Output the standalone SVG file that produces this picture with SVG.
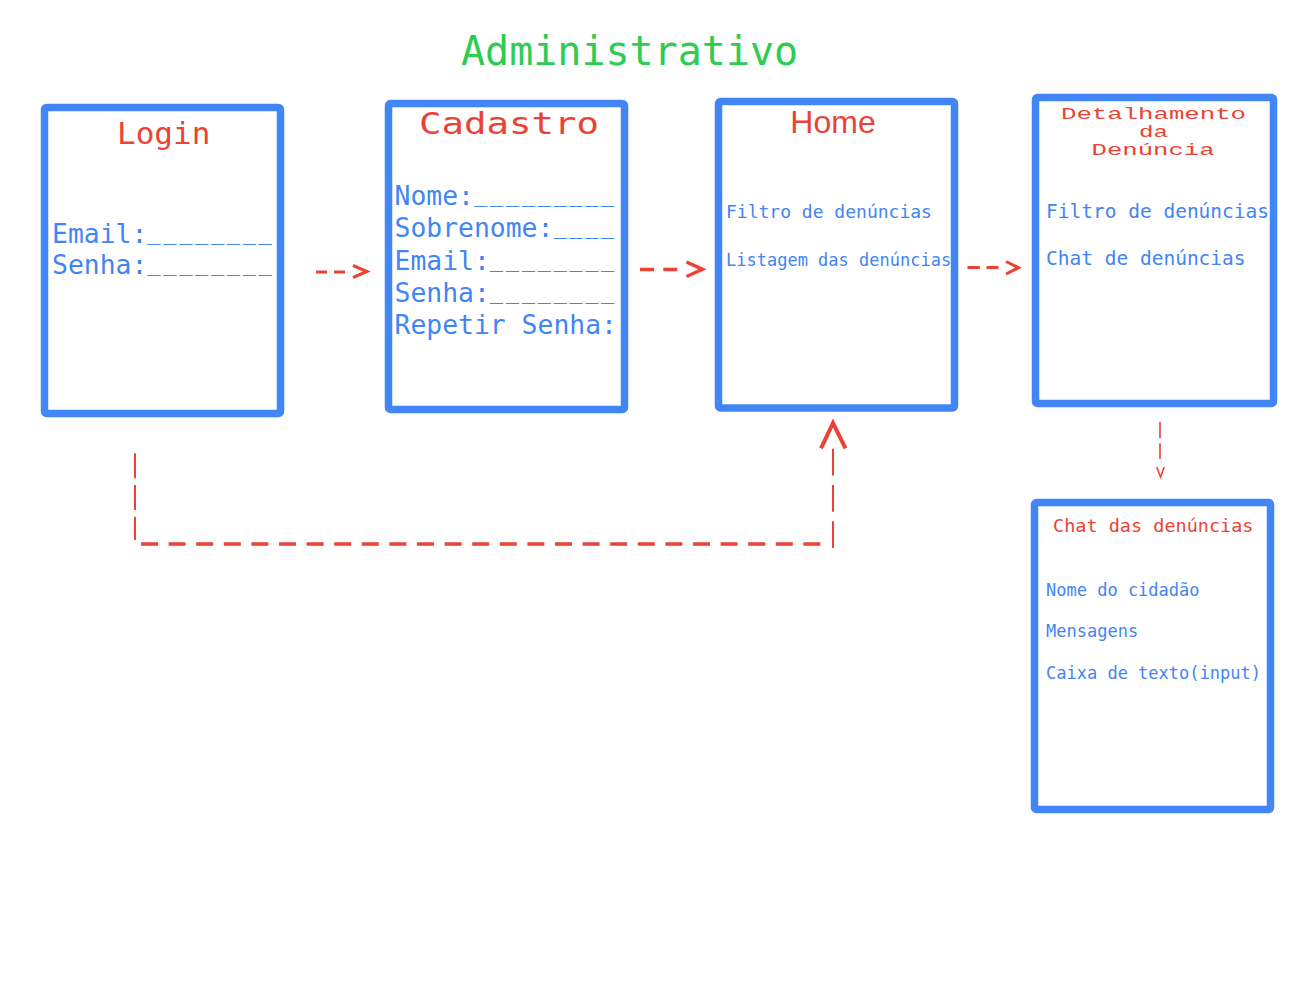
<svg xmlns="http://www.w3.org/2000/svg" width="1313" height="985" viewBox="0 0 1313 985">
<style>
.box{fill:#fff;stroke:#4285F4;stroke-width:7.5}
.mono{font-family:"DejaVu Sans Mono","Liberation Mono",monospace}
.red{fill:#EA4335}
.blue{fill:#4285F4}
.field{font-size:26.4px}
.us{font-size:22px;letter-spacing:2.65px}
.con{fill:none;stroke:#EA4335}
</style>
<rect width="1313" height="985" fill="#fff"/>
<text class="mono" x="461" y="65" font-size="40" fill="#2ECC52">Administrativo</text>

<g id="login">
<rect class="box" x="44.5" y="107.5" width="236" height="306" rx="2"/>
<text class="mono red" x="117" y="144" font-size="31">Login</text>
<text class="mono blue field" x="52" y="243">Email:<tspan class="us" dy="-3">________</tspan></text>
<text class="mono blue field" x="52" y="274">Senha:<tspan class="us" dy="-3">________</tspan></text>
</g>

<g id="cadastro">
<rect class="box" x="388.5" y="103.5" width="236" height="306" rx="2"/>
<text class="mono red" x="419" y="134" font-size="30" textLength="180" lengthAdjust="spacingAndGlyphs">Cadastro</text>
<text class="mono blue field" x="394.5" y="205">Nome:<tspan class="us" dy="-3">_________</tspan></text>
<text class="mono blue field" x="394.5" y="237">Sobrenome:<tspan class="us" dy="-3">____</tspan></text>
<text class="mono blue field" x="394.5" y="270">Email:<tspan class="us" dy="-3">________</tspan></text>
<text class="mono blue field" x="394.5" y="302">Senha:<tspan class="us" dy="-3">________</tspan></text>
<text class="mono blue field" x="394.5" y="334">Repetir Senha:</text>
</g>

<g id="home">
<rect class="box" x="718.5" y="101.5" width="236" height="306.5" rx="2"/>
<text x="833" y="133" font-family="'Liberation Sans',Arial,sans-serif" font-size="32" text-anchor="middle" class="red">Home</text>
<text class="mono blue" x="726" y="218" font-size="18">Filtro de denúncias</text>
<text class="mono blue" x="726" y="266" font-size="17">Listagem das denúncias</text>
</g>

<g id="detalhamento">
<rect class="box" x="1035.5" y="97.5" width="238" height="306" rx="2"/>
<text x="1061" y="119" font-family="'Liberation Mono',monospace" font-size="16" class="red" textLength="185" lengthAdjust="spacingAndGlyphs">Detalhamento</text>
<text x="1139" y="137" font-family="'Liberation Mono',monospace" font-size="16" class="red" textLength="29" lengthAdjust="spacingAndGlyphs">da</text>
<text x="1091.5" y="154.5" font-family="'Liberation Mono',monospace" font-size="16" class="red" textLength="123" lengthAdjust="spacingAndGlyphs">Denúncia</text>
<text class="mono blue" x="1046" y="218" font-size="19.5">Filtro de denúncias</text>
<text class="mono blue" x="1046" y="264.5" font-size="19.5">Chat de denúncias</text>
</g>

<g id="chat">
<rect class="box" x="1034.5" y="502.5" width="236" height="307" rx="2"/>
<text class="mono red" x="1053" y="532" font-size="18.5">Chat das denúncias</text>
<text class="mono blue" x="1046" y="596" font-size="17">Nome do cidadão</text>
<text class="mono blue" x="1046" y="637" font-size="17">Mensagens</text>
<text class="mono blue" x="1046" y="678.5" font-size="17">Caixa de texto(input)</text>
</g>

<g id="connectors">
<path class="con" d="M316,272 H345" stroke-width="3" stroke-dasharray="11 7"/>
<path class="con" d="M353,265.5 L367,271.5 L353,277.5" stroke-width="3"/>
<path class="con" d="M640,269.5 H678.5" stroke-width="3.5" stroke-dasharray="14 9.3"/>
<path class="con" d="M686.5,262 L702.5,269.3 L686.5,276.5" stroke-width="3.5"/>
<path class="con" d="M967.5,267.5 H998.5" stroke-width="3" stroke-dasharray="12.3 6.7"/>
<path class="con" d="M1006,261.5 L1018.5,267.7 L1006,274" stroke-width="3"/>
<path class="con" d="M1160,421.7 V459" stroke-width="1.6" stroke-dasharray="16.6 5"/>
<path class="con" d="M1156.8,467 L1160.5,477 L1164.2,467" stroke-width="1.6"/>
<path class="con" d="M135,453.3 V540" stroke-width="2" stroke-dasharray="25 6.7"/>
<path class="con" d="M141,544 H821" stroke-width="3.5" stroke-dasharray="17 10.6"/>
<path class="con" d="M833,548 V446.7" stroke-width="2" stroke-dasharray="26.7 9.6"/>
<path class="con" d="M821,448.3 L833,423 L845.5,448.3" stroke-width="4"/>
</g>
</svg>
